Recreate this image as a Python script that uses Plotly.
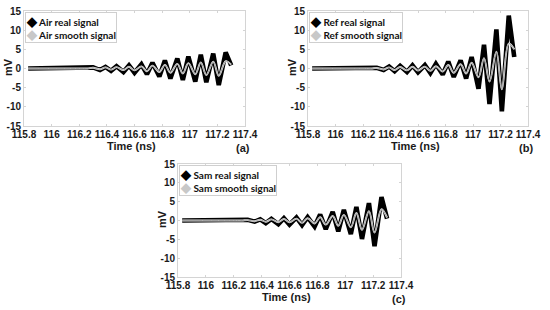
import plotly.graph_objects as go

# time of each turning point of the signals (ns), shared by the three panels
t_ns = [115.83, 116.22, 116.26, 116.30, 116.35, 116.39, 116.43, 116.47, 116.52,
        116.56, 116.60, 116.65, 116.69, 116.73, 116.78, 116.82, 116.86, 116.91,
        116.95, 116.99, 117.04, 117.08, 117.12, 117.17, 117.21, 117.26, 117.30]

# (a) Air
air_real = [0, 0, 0, 0.3, -0.4, 0.4, -0.6, 0.6, -0.9, 0.8, -1.1, 1.1, -1.5, 1.5,
            -2.1, 2.1, -2.6, 2.6, -3.0, 3.1, -3.4, 3.6, -3.6, 3.9, -4.3, 4.2, 0.8]
air_smooth = [0, 0, 0, 0.2, -0.2, 0.3, -0.3, 0.35, -0.4, 0.45, -0.5, 0.55, -0.7, 0.75,
              -0.9, 0.95, -1.1, 1.2, -1.3, 1.4, -1.5, 1.6, -1.7, 1.8, -1.9, 1.9, 1.0]

# (b) Ref
ref_real = [0, 0, 0, 0.2, -0.4, 0.5, -0.7, 0.7, -0.9, 0.8, -1.0, 0.9, -1.2, 1.2,
            -1.6, 1.8, -2.2, 2.1, -2.6, 3.0, -5.3, 6.2, -9.3, 10.2, -11.2, 13.8, 3.0]
ref_smooth = [0, 0, 0, 0.15, -0.25, 0.3, -0.4, 0.4, -0.5, 0.45, -0.55, 0.5, -0.6, 0.6,
              -0.8, 0.9, -1.1, 1.1, -1.3, 1.5, -2.3, 2.7, -3.4, 4.4, -5.4, 6.5, 5.0]

# (c) Sam
sam_real = [0, 0, 0, 0.2, -0.3, 0.3, -0.7, 0.4, -1.0, 0.6, -1.1, 0.8, -1.2, 0.9,
            -1.6, 1.6, -2.3, 2.3, -2.9, 2.8, -3.6, 3.6, -4.9, 4.6, -6.8, 6.2, 0.5]
sam_smooth = [0, 0, 0, 0.1, -0.2, 0.2, -0.35, 0.3, -0.45, 0.4, -0.5, 0.5, -0.6, 0.6,
              -0.8, 0.9, -1.1, 1.2, -1.4, 1.5, -1.8, 2.0, -2.5, 2.5, -3.2, 3.0, 0.8]

x_ticks = [115.8, 116, 116.2, 116.4, 116.6, 116.8, 117, 117.2, 117.4]
x_labels = ["115.8", "116", "116.2", "116.4", "116.6", "116.8", "117", "117.2", "117.4"]
y_ticks = [-15, -10, -5, 0, 5, 10, 15]
y_labels = ["-15", "-10", "-5", "0", "5", "10", "15"]

panels = [
    ("Air", air_real, air_smooth, "(a)"),
    ("Ref", ref_real, ref_smooth, "(b)"),
    ("Sam", sam_real, sam_smooth, "(c)"),
]

W, H = 550, 310
# plot boxes in pixels: left, right, top, bottom
boxes = [(24, 245, 11, 126), (308, 528, 11, 126), (178, 401, 164, 277)]

fig = go.Figure()
tick_font = dict(family="Liberation Sans, Arial", size=10, color="#1a1a1a", weight="bold")
frame = "#d4d4d4"

for i, (name, real, smooth, tag) in enumerate(panels):
    n = "" if i == 0 else str(i + 1)
    xa, ya = "x" + n, "y" + n
    fig.add_trace(go.Scatter(x=t_ns, y=real, mode="lines", xaxis=xa, yaxis=ya,
                             line=dict(color="black", width=4.6), showlegend=False))
    fig.add_trace(go.Scatter(x=t_ns, y=smooth, mode="lines", xaxis=xa, yaxis=ya,
                             line=dict(color="#e8e8e8", width=1.9, shape="spline"),
                             showlegend=False))
    fig.add_trace(go.Scatter(x=t_ns, y=smooth, mode="lines", xaxis=xa, yaxis=ya,
                             line=dict(color="#a0a0a0", width=1, shape="spline"),
                             showlegend=False))

    l, r, t, b = boxes[i]
    fig.layout["xaxis" + n] = dict(
        domain=[l / W, r / W], anchor=ya, range=[115.8, 117.4],
        tickvals=x_ticks, ticktext=x_labels, tickfont=tick_font, tickangle=0,
        automargin=False, ticklabeloverflow="allow", ticklabelstandoff=-1,
        showgrid=False, zeroline=False, showline=True, linecolor=frame,
        linewidth=1, mirror="ticks", ticks="inside", ticklen=2, tickcolor=frame)
    fig.layout["yaxis" + n] = dict(
        domain=[1 - b / H, 1 - t / H], anchor=xa, range=[-15, 15],
        tickvals=y_ticks, ticktext=y_labels, tickfont=tick_font, automargin=False,
        ticklabeloverflow="allow",
        showgrid=False, zeroline=False, showline=True, linecolor=frame,
        linewidth=1, mirror="ticks", ticks="inside", ticklen=2, tickcolor=frame)

    lab = dict(family="Liberation Sans, Arial", size=11, color="#1a1a1a", weight="bold")
    fig.add_annotation(x=(l + r) / 2 / W - 0.005, y=1 - (b + 20) / H, xref="paper", yref="paper",
                       text="Time (ns)", showarrow=False, font=lab,
                       xanchor="center", yanchor="middle")
    fig.add_annotation(x=(l - 16) / W, y=1 - (t + b) / 2 / H + 0.005, xref="paper", yref="paper",
                       text="mV", showarrow=False, font=lab, textangle=-90,
                       xanchor="center", yanchor="middle")
    fig.add_annotation(x=(r - 2) / W, y=1 - (b + 22) / H, xref="paper", yref="paper",
                       text=tag, showarrow=False, font=lab,
                       xanchor="center", yanchor="middle")

    leg = ('<span style="color:black;font-size:13px">◆</span> %s real signal<br>'
           '<span style="color:#c8c8c8;font-size:13px">◆</span> %s smooth signal') % (name, name)
    fig.add_annotation(x=(l + 1) / W, y=1 - (t + 1) / H, xref="paper", yref="paper",
                       xanchor="left", yanchor="top", align="left", text=leg,
                       showarrow=False, bgcolor="white", bordercolor="#cfcfcf",
                       borderwidth=1, borderpad=0,
                       font=dict(family="Lato, Open Sans", size=10, color="#111", weight="bold"))

fig.update_layout(width=W, height=H, margin=dict(l=0, r=0, t=0, b=0),
                  plot_bgcolor="white", paper_bgcolor="white", showlegend=False)
# drop the browser's default body margin so the figure sits at the page corner
fig.write_html("out.html", config={"displayModeBar": False},
               post_script="document.body.style.margin='0px';")
